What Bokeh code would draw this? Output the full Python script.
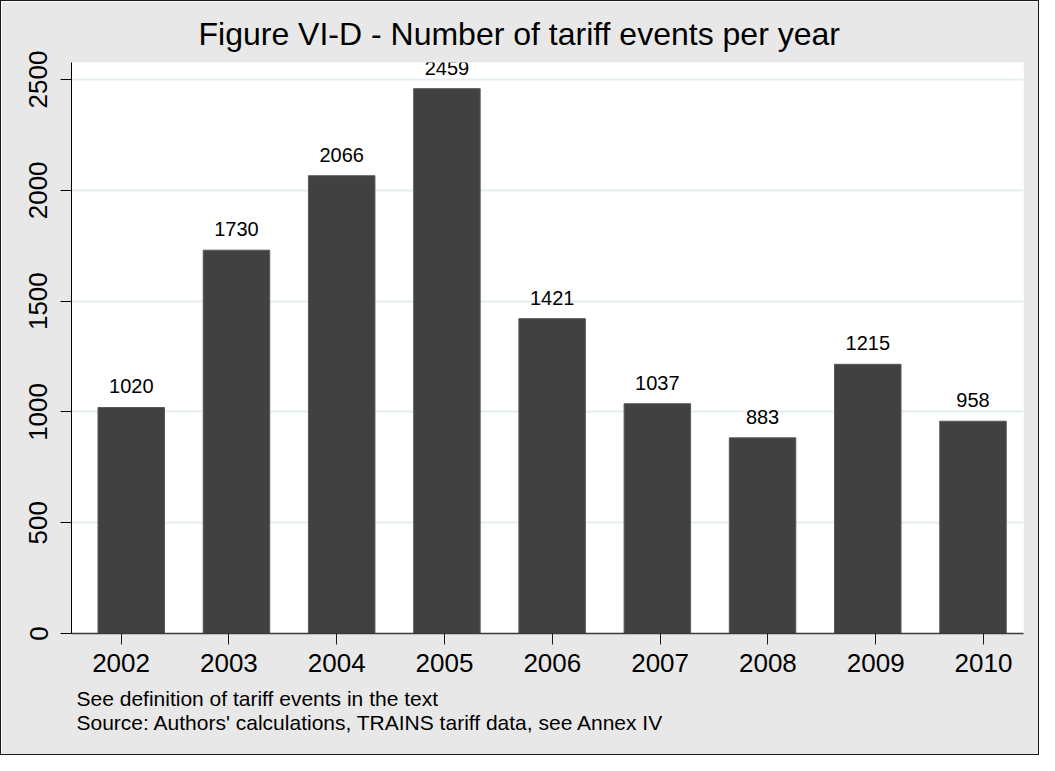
from bokeh.plotting import figure
from bokeh.models import (Range1d, LinearAxis, FixedTicker, Title, ColumnDataSource)
from bokeh.core.properties import value
from bokeh.embed import file_html
from bokeh.resources import INLINE

# ---- data ----
years = [2002, 2003, 2004, 2005, 2006, 2007, 2008, 2009, 2010]
events = [1020, 1730, 2066, 2459, 1421, 1037, 883, 1215, 958]
y_ticks = [0, 500, 1000, 1500, 2000, 2500]
title_text = "Figure VI-D - Number of tariff events per year"
note_lines = ["See definition of tariff events in the text",
              "Source: Authors' calculations, TRAINS tariff data, see Annex IV"]

FONT = "Liberation Sans"
BG = "#e8e8e8"

src = ColumnDataSource(dict(x=years, top=events, lab=[str(v) for v in events]))

p = figure(width=1039, height=755, output_backend="svg", toolbar_location=None,
           x_range=Range1d(2001.432, 2010.480), y_range=Range1d(0, 2577),
           x_axis_location=None, y_axis_location="left",
           min_border_left=70, min_border_right=17, min_border_top=61,
           min_border_bottom=123)
p.styles = {"border": "1px solid #1a1a1a", "box-sizing": "border-box"}
p.background_fill_color = "white"
p.border_fill_color = BG
p.outline_line_color = None

p.title.text = title_text
p.title.align = "left"
p.title.offset = 127
p.title.standoff = 22
p.title.text_font = FONT
p.title.text_font_size = "32px"
p.title.text_font_style = "normal"
p.title.text_color = "black"

# tick axis (separate range, as labels in the original sit slightly apart from bars)
p.extra_x_ranges = {"ticks": Range1d(2001.540, 2010.371)}
xaxis = LinearAxis(x_range_name="ticks", ticker=FixedTicker(ticks=years))
xaxis.major_label_text_font = FONT
xaxis.major_label_text_font_size = "26px"
xaxis.major_label_text_color = "black"
xaxis.axis_line_color = "#3a3a3a"
xaxis.axis_line_width = 1.5
xaxis.major_tick_line_color = "#1a1a1a"
xaxis.major_tick_in = 0
xaxis.major_tick_out = 11
xaxis.minor_tick_line_color = None
xaxis.major_label_standoff = 9
p.add_layout(xaxis, "below")

note = Title(text="\n".join(note_lines), align="left", offset=5, standoff=22,
             text_font=FONT, text_font_size="21px", text_font_style="normal",
             text_color="black", text_line_height=1.06)
p.add_layout(note, "below")

ya = p.yaxis[0]
ya.ticker = FixedTicker(ticks=y_ticks)
ya.major_label_orientation = "vertical"
ya.major_label_text_font = FONT
ya.major_label_text_font_size = "26px"
ya.major_label_text_color = "black"
ya.axis_line_color = "black"
ya.major_tick_line_color = "black"
ya.major_tick_in = 0
ya.major_tick_out = 11
ya.minor_tick_line_color = None
ya.major_label_standoff = 13

p.xgrid.visible = False
p.ygrid.ticker = FixedTicker(ticks=y_ticks[1:])
p.ygrid.grid_line_color = "#e4edf0"
p.ygrid.grid_line_width = 2

p.vbar(x="x", top="top", width=0.632, bottom=0, source=src,
       fill_color="#414141", line_color="#595959", line_width=1)

p.text(x="x", y="top", text="lab", source=src, text_align="center",
       text_baseline="alphabetic", y_offset=-21,
       text_font=value(FONT), text_font_size="20px", text_color="black")

open("out.html", "w").write(file_html(p, INLINE))
